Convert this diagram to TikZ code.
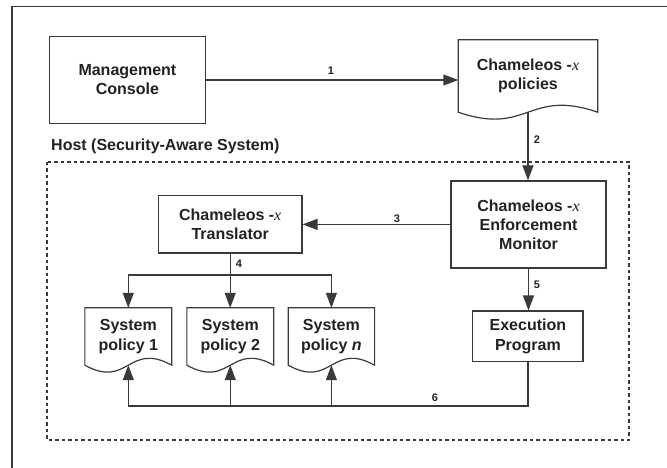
\documentclass[tikz,border=0pt]{standalone}
\usepackage{fontspec}
\setmainfont{Liberation Sans}
\newfontfamily\xserif{Liberation Serif}
\usetikzlibrary{arrows.meta,calc}
\definecolor{linec}{HTML}{3A3A3A}
\definecolor{textc}{HTML}{222222}
\newcommand{\chx}{Chameleos -{\xserif\itshape\mdseries x}}
\newcommand{\mydocshape}[1]{%
  \draw[docline] (#1.south west) -- (#1.north west) -- (#1.north east) -- (#1.south east)
    .. controls ($(#1.south)+(0,-24)$) and ($(#1.south)+(0,24)$) .. (#1.south west) -- cycle;}
\begin{document}
\begin{tikzpicture}[x=1pt,y=-1pt,
  font=\fontsize{16}{19.2}\selectfont\bfseries,
  box/.style={draw=linec, line width=1.2pt, align=center, inner sep=0pt, text=textc},
  docnode/.style={align=center, inner sep=0pt, text=textc},
  docline/.style={draw=linec, line width=1.2pt},
  conn/.style={draw=linec, line width=1.2pt},
  arr/.style={draw=linec, line width=1.2pt, -{Triangle[length=15pt,width=11pt]}},
  num/.style={font=\fontsize{11}{13}\selectfont\bfseries, text=textc, inner sep=0pt},
  dashedbox/.style={draw=linec, line width=1.1pt, dash pattern=on 3.5pt off 3pt}]
\useasboundingbox (0,0) rectangle (667,468);
% outer frame (clipped at right and bottom)
\draw[conn] (12,470) -- (12,6.3) -- (670,6.3);
% host area
\node[anchor=base west, inner sep=0pt, text=textc] (host) at (51,151) {Host (Security-Aware System)};
\draw[dashedbox] (47,162) rectangle (629,440);
% boxes
\node[box, minimum width=156pt, minimum height=87pt] (mc) at (127.4,79.7) {Management\\Console};
\node[box, minimum width=155pt, minimum height=87pt] (em) at (528.5,224.5) {\chx\\Enforcement\\Monitor};
\node[box, minimum width=143.5pt, minimum height=57.3pt] (tr) at (230.2,224.4) {\chx\\Translator};
\node[box, minimum width=110.3pt, minimum height=50.7pt] (ep) at (527.9,336.4) {Execution\\Program};
% documents
\node[docnode, minimum width=139pt, minimum height=72pt] (pol) at (528,76) {\chx\\policies};
\node[docnode, minimum width=86.5pt, minimum height=57pt] (sp1) at (128.3,336.5) {System\\policy 1};
\node[docnode, minimum width=86.5pt, minimum height=57pt] (sp2) at (230.3,336.5) {System\\policy 2};
\node[docnode, minimum width=86pt, minimum height=57pt] (spn) at (331.4,336.5) {System\\policy \textit{n}};
\mydocshape{pol}
\mydocshape{sp1}
\mydocshape{sp2}
\mydocshape{spn}
% connectors
\draw[arr] (mc.east |- 0,80) -- (pol.west |- 0,80);
\node[num] (l1) at (331,71) {1};
\draw[arr] (pol.south) -- (pol.south |- em.north);
\node[num] (l2) at (537,140) {2};
\draw[arr] (em.west |- tr.east) -- (tr.east);
\node[num] (l3) at (397,219) {3};
\coordinate (j4) at (tr.south |- 0,275);
\draw[arr] (tr.south) -- (tr.south |- sp2.north);
\draw[arr] (j4) -| (sp1.north);
\draw[arr] (j4) -| (spn.north);
\node[num] (l4) at (239,264) {4};
\draw[arr] (em.south |- em.south) -- (em.south |- ep.north);
\node[num] (l5) at (537,285) {5};
\coordinate (j6) at (ep.south |- 0,406);
\coordinate (j6b) at (sp2.south |- 0,406);
\coordinate (j6n) at (spn.south |- 0,406);
\draw[arr] (ep.south) -- (j6) -| (sp1.south);
\draw[arr] (j6b) -- (sp2.south);
\draw[arr] (j6n) -- (spn.south);
\node[num] (l6) at (435,398) {6};
\end{tikzpicture}
\end{document}
